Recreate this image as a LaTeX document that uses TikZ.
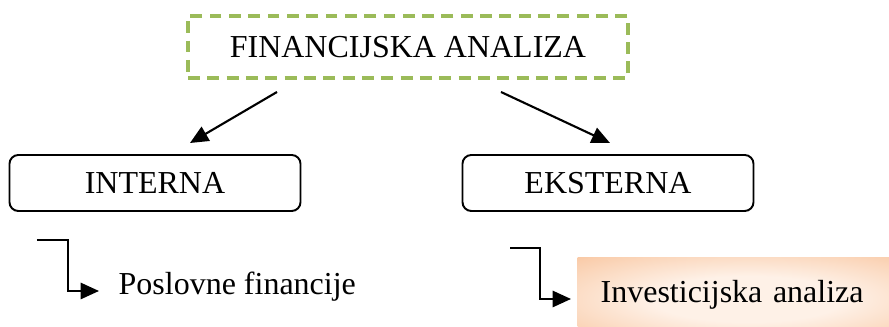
\documentclass[tikz,border=0pt]{standalone}
\usepackage{fontspec}
\setmainfont{Liberation Serif}
\usetikzlibrary{arrows.meta}
\definecolor{dashgreen}{HTML}{9BBB59}
\definecolor{boxorange}{HTML}{F6B07C}
\definecolor{boxlight}{HTML}{FEF1E7}
\pgfdeclareradialshading{softglow}{\pgfpoint{0bp}{0bp}}{color(0bp)=(boxlight); color(14bp)=(boxlight); color(34bp)=(boxlight!45!boxorange); color(46bp)=(boxorange); color(50bp)=(boxorange)}

\begin{document}
\begin{tikzpicture}[font=\fontsize{9.1pt}{11pt}\selectfont,
		mainbox/.style={draw=dashgreen,line width=1pt,dash pattern=on 3.4pt off 2.1pt,minimum width=4.4cm,minimum height=0.62cm,text height=0.22cm,text depth=0cm},
		kindbox/.style={draw=black,line width=0.55pt,rounded corners=2.5pt,minimum width=2.91cm,minimum height=0.56cm,text height=0.22cm,text depth=0cm},
		subtext/.style={anchor=west,inner xsep=0.19cm,text height=0.16cm,text depth=0.09cm},
		markbox/.style={anchor=west,inner xsep=0.23cm,text width=2.95cm,align=left,minimum height=0.82cm,text height=0.16cm,text depth=0.09cm,shading=softglow},
		tip/.style={line width=0.6pt,-{Triangle[length=5.2pt,width=4.6pt]}}]
		\useasboundingbox (0,0) rectangle (8.89,3.27);
		% top box
		\node [mainbox] (FA) at (4.08,2.80) {FINANCIJSKA ANALIZA};
		% two kinds
		\node [kindbox] (INT) at (1.55,1.44) {INTERNA};
		\node [kindbox] (EXT) at (6.08,1.44) {EKSTERNA};
		\coordinate (A1) at (2.77,2.35);
		\coordinate (A2) at (1.90,1.84);
		\coordinate (B1) at (5.01,2.35);
		\coordinate (B2) at (6.10,1.84);
		\draw [tip] (A1) -- (A2);
		\draw [tip] (B1) -- (B2);
		% lower items
		\node [subtext] (PF) at (0.99,0.36) {Poslovne financije};
		\node [markbox] (IA) at (5.77,0.28) {Investicijska analiza};
		\coordinate (C1) at (0.37,0.87);
		\coordinate (D1) at (5.10,0.79);
		\draw [tip] (C1) -- ++(0.31,0) |- (PF.west);
		\draw [tip,shorten >=0.06cm] (D1) -- ++(0.30,0) |- (IA.west);
	\end{tikzpicture}
\end{document}
